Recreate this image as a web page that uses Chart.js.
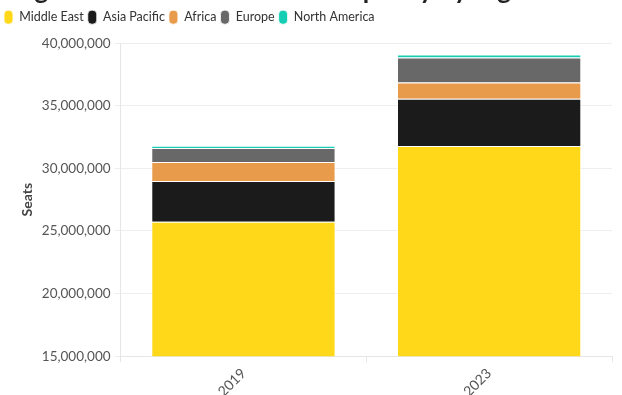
<!DOCTYPE html>
<html><head><meta charset="utf-8">
<script src="https://cdn.jsdelivr.net/npm/chart.js@4"></script>
<style>
html,body{margin:0;padding:0;overflow:hidden;background:#fff;width:622px;height:395px}
#wrap{position:absolute;left:0;top:-30px;width:622px;height:433px}
</style></head>
<body><div id="wrap"><canvas id="c"></canvas></div>
<script>
const titleText = "Huge rebound in overall seat capacity by region";
const years = ["2019", "2023"];
const middleEast = [25740000, 31780000];
const asiaPacific = [3260000, 3790000];
const africa = [1500000, 1300000];
const europe = [1120000, 1980000];
const northAmerica = [190000, 250000];
const yTicks = [15000000, 20000000, 25000000, 30000000, 35000000, 40000000];

const fontFam = "Lato, 'Open Sans', sans-serif";
const mk = (label, data, color) => ({
  label, data, backgroundColor: color, borderColor: "rgba(255,255,255,0.8)",
  borderWidth: 1, barPercentage: 0.75, categoryPercentage: 1
});

const legendGap = {
  id: "legendGap",
  beforeInit(chart) {
    const lg = chart.legend;
    const fit = lg.fit;
    lg.fit = function () { fit.call(this); this.height += 9; };
  }
};

new Chart(document.getElementById("c"), {
  type: "bar",
  data: {
    labels: years,
    datasets: [
      mk("Middle East", middleEast, "#FFD81A"),
      mk("Asia Pacific", asiaPacific, "#1B1B1B"),
      mk("Africa", africa, "#E89B4B"),
      mk("Europe", europe, "#686868"),
      mk("North America", northAmerica, "#14CDB2")
    ]
  },
  plugins: [legendGap],
  options: {
    responsive: true, maintainAspectRatio: false, animation: false,
    layout: { padding: { left: 0, right: 10, top: 0, bottom: 0 } },
    plugins: {
      title: { display: true, text: titleText, align: "start", color: "#222",
        font: { family: fontFam, size: 26, weight: "bold" }, padding: { top: 5, bottom: 0 } },
      legend: { position: "top", align: "start",
        labels: { boxWidth: 9, boxHeight: 14, useBorderRadius: true, borderRadius: 4,
          padding: 4, color: "#333", font: { family: fontFam, size: 12.5 } } },
      tooltip: { enabled: false }
    },
    scales: {
      x: { stacked: true,
        grid: { drawOnChartArea: false, drawTicks: true, tickLength: 6, color: "#e6e6e6" },
        border: { color: "#e6e6e6" },
        ticks: { color: "#555", font: { family: fontFam, size: 14 }, maxRotation: 45, minRotation: 45 } },
      y: { stacked: true, min: 15000000, max: 40000000,
        afterBuildTicks: (ax) => { ax.ticks = yTicks.map(v => ({ value: v })); },
        grid: { color: "#eeeeee", tickLength: 6 },
        border: { color: "#e6e6e6" },
        title: { display: true, text: "Seats", color: "#444", padding: { top: 19, bottom: 2 },
          font: { family: fontFam, size: 14, weight: "bold" } },
        ticks: { color: "#555", padding: 4, font: { family: fontFam, size: 13.5 },
          callback: (v) => Number(v).toLocaleString("en-US") } }
    }
  }
});
</script>
</body></html>
